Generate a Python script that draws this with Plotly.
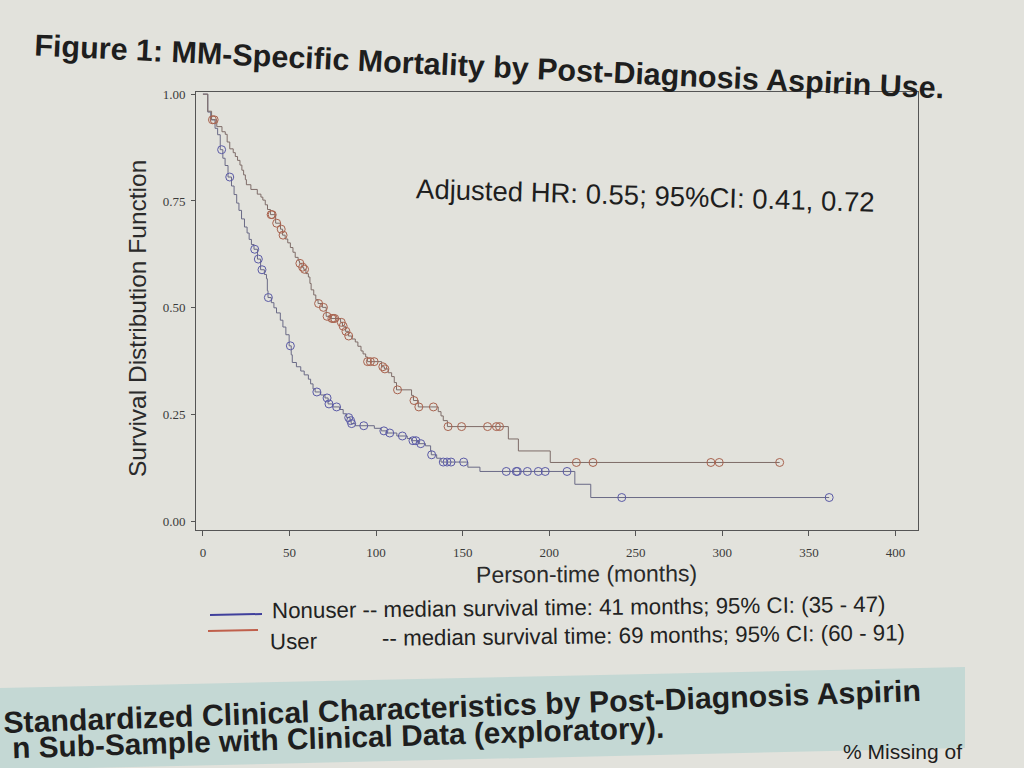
import numpy as np
import plotly.graph_objects as go

# ---------------- data ----------------
nonuser_time = [0, 2.8, 4.5, 7.0, 8.5, 10.0, 11.5, 12.8, 14.5, 16.5, 18.0, 19.5, 20.8, 22.3, 24.0, 25.5,
                26.7, 28.0, 29.5, 31.5, 33.3, 35.5, 36.7, 37.2, 37.6, 39.5, 41.0, 42.5, 44.7, 46.2, 47.9,
                49.8, 51.0, 51.6, 54.0, 56.5, 58.5, 60.9, 62.2, 63.6, 64.8, 68.0, 70.5, 72.3, 75.0, 79.0,
                81.0, 83.0, 85.0, 85.6, 88.0, 99.0, 103.0, 106.0, 112.0, 118.0, 120.5, 124.5, 128.5,
                131.5, 131.9, 135.0, 137.5, 153.0, 160.0, 214.8, 224.0]
nonuser_surv = [1.0, 0.958, 0.940, 0.920, 0.905, 0.870, 0.850, 0.833, 0.806, 0.785, 0.765, 0.745, 0.728,
                0.708, 0.689, 0.675, 0.660, 0.648, 0.637, 0.614, 0.589, 0.578, 0.568, 0.540, 0.524, 0.512,
                0.500, 0.488, 0.471, 0.455, 0.437, 0.411, 0.390, 0.372, 0.362, 0.352, 0.343, 0.333, 0.322,
                0.310, 0.303, 0.296, 0.289, 0.275, 0.268, 0.262, 0.252, 0.243, 0.236, 0.229, 0.224, 0.218,
                0.212, 0.207, 0.200, 0.194, 0.189, 0.182, 0.177, 0.165, 0.156, 0.148, 0.139, 0.127, 0.117,
                0.087, 0.056]
nonuser_censor = [10.8, 15.5, 29.9, 32.0, 34.1, 37.8, 50.5, 65.8, 71.7, 72.8, 77.2, 84.2, 85.3, 85.9,
                  92.9, 104.5, 107.9, 115.2, 121.3, 123.0, 125.8, 132.1, 138.8, 141.0, 143.3, 150.6,
                  175.2, 181.0, 181.6, 187.4, 193.7, 197.7, 210.3, 241.9, 361.7]

user_time = [0, 2.8, 5.0, 8.0, 11.0, 12.9, 14.0, 15.5, 17.5, 18.7, 20.0, 21.4, 22.5, 23.5, 24.5, 25.1,
             27.7, 31.4, 33.5, 34.6, 36.0, 37.3, 39.0, 42.0, 44.8, 46.0, 47.5, 49.0, 50.5, 52.0, 53.3,
             55.0, 55.8, 57.2, 58.2, 59.5, 60.9, 61.8, 62.5, 64.0, 65.2, 66.5, 69.0, 71.2, 74.0, 79.5,
             80.6, 82.3, 84.0, 86.0, 88.0, 89.5, 91.3, 92.5, 94.0, 95.0, 103.2, 104.8, 107.0, 109.0,
             110.5, 111.8, 120.5, 121.6, 124.4, 135.9, 137.5, 138.8, 141.2, 176.4, 182.2, 200.6]
user_surv = [1.0, 0.960, 0.940, 0.924, 0.912, 0.906, 0.888, 0.872, 0.863, 0.854, 0.845, 0.834, 0.822,
             0.811, 0.800, 0.788, 0.777, 0.766, 0.759, 0.752, 0.741, 0.730, 0.718, 0.698, 0.684, 0.670,
             0.661, 0.652, 0.641, 0.630, 0.618, 0.610, 0.604, 0.595, 0.590, 0.580, 0.572, 0.557, 0.542,
             0.530, 0.519, 0.510, 0.501, 0.480, 0.475, 0.466, 0.457, 0.445, 0.434, 0.427, 0.420, 0.410,
             0.399, 0.392, 0.385, 0.374, 0.362, 0.357, 0.348, 0.339, 0.325, 0.308, 0.295, 0.283, 0.268,
             0.257, 0.247, 0.236, 0.222, 0.193, 0.165, 0.138]
user_censor = [5.5, 6.5, 39.4, 40.0, 42.6, 45.2, 46.3, 56.0, 57.6, 58.7, 66.8, 69.6, 71.7, 74.5, 75.3,
               76.1, 79.9, 81.0, 82.6, 84.2, 95.1, 96.7, 98.9, 103.9, 105.1, 112.4, 121.9, 124.7, 133.1,
               141.6, 149.4, 164.4, 169.5, 171.3, 215.7, 225.3, 293.4, 298.2, 333.1]

x_ticks = [0, 50, 100, 150, 200, 250, 300, 350, 400]
y_ticks = [0.0, 0.25, 0.50, 0.75, 1.0]
y_tick_text = ["0.00", "0.25", "0.50", "0.75", "1.00"]

group_names = ["Nonuser", "User"]
group_notes = ["-- median survival time: 41 months; 95% CI: (35 - 47)",
               "-- median survival time: 69 months; 95% CI: (60 - 91)"]

# ---------------- layout helpers ----------------
W, H = 1024, 768
L, R, T, B = 196, 106, 92, 238
PW, PH = W - L - R, H - T - B


def pxx(x):
    return (x - L) / PW


def pxy(y):
    return (H - B - y) / PH


def censor_values(times, surv, cens):
    idx = np.searchsorted(np.array(times), np.array(cens), side="right") - 1
    return [surv[i] for i in idx]


BG = "#e2e2dc"
sans = "Liberation Sans, Arial, sans-serif"
fig = go.Figure()

groups = [
    (nonuser_time, nonuser_surv, nonuser_censor, "#6a6a86", "#5a5aa6"),
    (user_time, user_surv, user_censor, "#7e6c68", "#a8624e"),
]
for name, (times, surv, cens, lcol, mcol) in zip(group_names, groups):
    xs = list(times) + [cens[-1]]
    ys = list(surv) + [surv[-1]]
    fig.add_trace(go.Scatter(x=xs, y=ys, mode="lines", name=name,
                             line=dict(color=lcol, width=1, shape="hv"), showlegend=False))
    fig.add_trace(go.Scatter(x=cens, y=censor_values(times, surv, cens), mode="markers",
                             name=name + " (censored)",
                             marker=dict(symbol="circle-open", size=8, color=mcol, line=dict(width=1)),
                             showlegend=False))

axis_common = dict(showline=True, linecolor="#555555", linewidth=1, mirror=True, showgrid=False,
                   zeroline=False, ticks="outside", tickcolor="#555555",
                   tickfont=dict(family="Liberation Serif, Times New Roman, serif", size=13, color="#3a3a3a"))

fig.update_layout(
    width=W, height=H,
    margin=dict(l=L, r=R, t=T, b=B),
    paper_bgcolor=BG, plot_bgcolor=BG,
    xaxis=dict(range=[-4, 413], tickvals=x_ticks, ticklen=5, ticklabelstandoff=5, **axis_common),
    yaxis=dict(range=[-0.02, 1.005], tickvals=y_ticks, ticktext=y_tick_text, ticklen=4,
               ticklabelstandoff=3, **axis_common),
    showlegend=False,
)

# teal box at the bottom of the poster
pts = [(0, 688), (965, 667), (965, 748), (0, 770)]
path = "M " + " L ".join(f"{pxx(a):.4f},{pxy(b):.4f}" for a, b in pts) + " Z"
fig.add_shape(type="path", path=path, xref="paper", yref="paper", fillcolor="#c4d8d4",
              line=dict(width=0), layer="below")

# legend (line samples + text)
leg_lines = [((210, 615), (262, 614), "#40409c"), ((208, 631), (258, 630), "#c0604c")]
for (x0, y0), (x1, y1), col in leg_lines:
    fig.add_shape(type="line", xref="paper", yref="paper", x0=pxx(x0), y0=pxy(y0), x1=pxx(x1), y1=pxy(y1),
                  line=dict(color=col, width=2))

ann = [
    dict(text="<b>Figure 1: MM-Specific Mortality by Post-Diagnosis Aspirin Use.</b>", x=pxx(489), y=pxy(66),
         font=dict(family=sans, size=30.5, color="#1e1e1e"), textangle=2.7),
    dict(text="Adjusted HR: 0.55; 95%CI: 0.41, 0.72", x=pxx(645), y=pxy(195),
         font=dict(family=sans, size=27.5, color="#1e1e1e"), textangle=1.7),
    dict(text="Survival Distribution Function", x=pxx(137), y=pxy(319),
         font=dict(family=sans, size=24.5, color="#2a2a2a"), textangle=-90),
    dict(text="Person-time (months)", x=pxx(586), y=pxy(574),
         font=dict(family=sans, size=23, color="#2a2a2a"), textangle=-0.4),
    dict(text=group_names[0] + " " + group_notes[0], x=pxx(578), y=pxy(607),
         font=dict(family=sans, size=22.3, color="#222222"), textangle=-0.6),
    dict(text=group_names[1], x=pxx(294), y=pxy(641),
         font=dict(family=sans, size=22.3, color="#222222"), textangle=-0.6),
    dict(text=group_notes[1], x=pxx(643), y=pxy(635),
         font=dict(family=sans, size=22.3, color="#222222"), textangle=-0.6),
    dict(text="<b>Standardized Clinical Characteristics by Post-Diagnosis Aspirin</b>", x=pxx(462), y=pxy(706),
         font=dict(family=sans, size=30.3, color="#1e1e1e"), textangle=-2.0),
    dict(text="<b>n Sub-Sample with Clinical Data (exploratory).</b>", x=pxx(338), y=pxy(737),
         font=dict(family=sans, size=29.8, color="#1e1e1e"), textangle=-1.8),
    dict(text="% Missing of", x=pxx(902), y=pxy(751),
         font=dict(family=sans, size=21, color="#1e1e1e")),
]
for a in ann:
    fig.add_annotation(xref="paper", yref="paper", xanchor="center", yanchor="middle", showarrow=False, **a)

fig.write_html("out.html")
